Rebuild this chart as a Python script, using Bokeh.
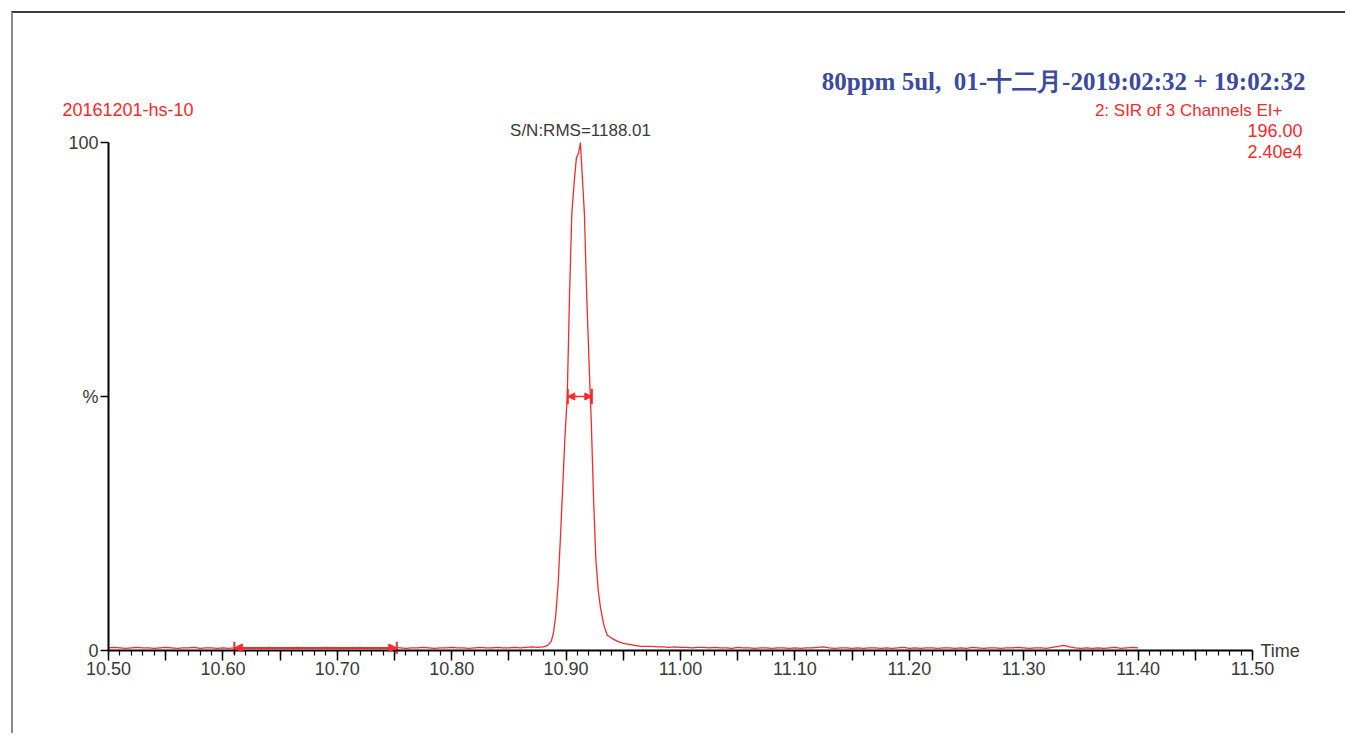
import numpy as np
from bokeh.plotting import figure
from bokeh.models import Range1d, FixedTicker, Label, Arrow, NormalHead, CustomJSTickFormatter
from bokeh.embed import file_html
from bokeh.resources import INLINE

# ---------------- data ----------------
scan_step = 0.005
left_start = 10.500
base_left = [
    0.5, 0.6, 0.5, 0.4, 0.5, 0.6, 0.5, 0.5, 0.4, 0.5,
    0.6, 0.5, 0.4, 0.5, 0.5, 0.6, 0.4, 0.5, 0.5, 0.4,
    0.5, 0.4, 0.5, 0.6, 0.4, 0.5, 0.5, 0.4, 0.6, 0.5,
    0.4, 0.5, 0.5, 0.6, 0.4, 0.5, 0.4, 0.5, 0.6, 0.5,
    0.5, 0.4, 0.5, 0.5, 0.6, 0.4, 0.5, 0.5, 0.4, 0.5,
    0.6, 0.5, 0.4, 0.5, 0.5, 0.6, 0.5, 0.4, 0.5, 0.5,
    0.6, 0.5, 0.5, 0.4, 0.5, 0.6, 0.5, 0.5, 0.6, 0.5,
    0.5, 0.6, 0.5, 0.6, 0.7, 0.6]
peak_t = [10.880, 10.884, 10.887, 10.889, 10.891, 10.893, 10.895, 10.897, 10.899,
          10.901, 10.903, 10.905, 10.907, 10.909, 10.911, 10.9125, 10.914, 10.916,
          10.918, 10.920, 10.922, 10.924, 10.926, 10.928, 10.930, 10.933, 10.936,
          10.940, 10.945, 10.950, 10.955, 10.960, 10.965, 10.970]
peak_v = [0.7, 1.0, 1.8, 3.5, 7, 13, 22, 32, 42,
          50, 70, 86, 92, 97, 98, 100, 94, 86,
          70, 57, 45, 30, 18, 12, 8.5, 5, 3,
          2.4, 1.8, 1.4, 1.2, 1.0, 0.8, 0.8]
right_start = 10.975
base_right = [
    0.8, 0.7, 0.7, 0.6, 0.7, 0.6, 0.6, 0.5, 0.6, 0.6,
    0.5, 0.6, 0.5, 0.5, 0.4, 0.6, 0.5, 0.5, 0.4, 0.5,
    0.5, 0.4, 0.5, 0.5, 0.4, 0.5, 0.4, 0.5, 0.5, 0.6,
    0.7, 0.5, 0.4, 0.5, 0.5, 0.4, 0.5, 0.4, 0.5, 0.5,
    0.4, 0.5, 0.4, 0.5, 0.6, 0.4, 0.5, 0.4, 0.5, 0.5,
    0.4, 0.5, 0.5, 0.4, 0.5, 0.4, 0.6, 0.5, 0.4, 0.5,
    0.5, 0.4, 0.5, 0.5, 0.6, 0.5, 0.4, 0.5, 0.5, 0.4,
    0.6, 0.8, 1.0, 0.7, 0.5, 0.4, 0.5, 0.4, 0.5, 0.4,
    0.5, 0.6, 0.4, 0.5, 0.6, 0.5]

noise_range = [10.610, 10.752]
noise_level = 0.5
width_range = [10.9015, 10.9225]
width_level = 50

x_bounds = (10.50, 11.50)
y_bounds = (0, 100)
x_major = [10.50, 10.55, 10.60, 10.65, 10.70, 10.75, 10.80, 10.85, 10.90, 10.95, 11.00,
           11.05, 11.10, 11.15, 11.20, 11.25, 11.30, 11.35, 11.40, 11.45, 11.50]
y_ticks = [0, 50, 100]

title_text = "80ppm 5ul,\u00a0 01-十二月-2019:02:32 + 19:02:32"
sample_text = "20161201-hs-10"
func_text = "2: SIR of 3 Channels EI+"
mass_text = "196.00"
intensity_text = "2.40e4"
sn_text = "S/N:RMS=1188.01"

# ---------------- build series ----------------
t_left = [round(left_start + i * scan_step, 4) for i in range(len(base_left))]
t_right = [round(right_start + i * scan_step, 4) for i in range(len(base_right))]
times = t_left + peak_t + t_right
vals = base_left + peak_v + base_right

RED = "#f52a2a"
BLUE = "#3b4a9e"
GREY = "#3a3a3a"

# frame is wider than the axes so the header texts fit inside it
p = figure(width=1334, height=722,
           x_range=Range1d(10.451923, 11.565559), y_range=Range1d(-8.858, 117.52),
           output_backend="svg", toolbar_location=None,
           min_border_left=40, min_border_right=20, min_border_top=40, min_border_bottom=40)
p.margin = (11, 0, 0, 11)
p.styles = {"border-top": "2px solid #3c3c3c", "border-left": "2px solid #8a8a8a"}
p.xgrid.visible = False
p.ygrid.visible = False
p.outline_line_color = None
p.background_fill_color = "white"
p.border_fill_color = "white"

minor = [round(10.5 + i * 0.01, 2) for i in range(101)]
xa = p.xaxis[0]
xa.fixed_location = 0
xa.bounds = x_bounds
xa.ticker = FixedTicker(ticks=x_major, minor_ticks=minor)
xa.formatter = CustomJSTickFormatter(code="return (Math.round(tick*100) % 10 == 0) ? tick.toFixed(2) : '';")
xa.axis_line_width = 2
xa.axis_line_color = "black"
xa.major_tick_line_width = 1.5
xa.major_tick_line_color = "black"
xa.major_tick_out = 10
xa.major_tick_in = 0
xa.minor_tick_line_width = 1.2
xa.minor_tick_line_color = "black"
xa.minor_tick_out = 5
xa.minor_tick_in = 0
xa.major_label_text_font = "Liberation Sans"
xa.major_label_text_font_size = "18px"
xa.major_label_text_color = GREY
xa.major_label_standoff = 1

ya = p.yaxis[0]
ya.fixed_location = x_bounds[0]
ya.bounds = y_bounds
ya.ticker = FixedTicker(ticks=y_ticks, minor_ticks=[])
ya.formatter = CustomJSTickFormatter(code="return tick == 50 ? '%' : tick.toFixed(0);")
ya.axis_line_width = 2
ya.axis_line_color = "black"
ya.major_tick_line_width = 1.5
ya.major_tick_line_color = "black"
ya.major_tick_out = 8
ya.major_tick_in = 0
ya.minor_tick_out = 0
ya.major_label_text_font = "Liberation Sans"
ya.major_label_text_font_size = "18px"
ya.major_label_text_color = GREY
ya.major_label_standoff = 2

p.line(times, vals, line_color=RED, line_width=1.3)

# noise range marker
p.segment(x0=noise_range, y0=[noise_level - 1.2] * 2, x1=noise_range, y1=[noise_level + 1.2] * 2,
          line_color=RED, line_width=2)
p.add_layout(Arrow(x_start=noise_range[0], y_start=noise_level, x_end=noise_range[1], y_end=noise_level,
                   line_color=RED, line_width=2,
                   start=NormalHead(size=8, fill_color=RED, line_color=RED),
                   end=NormalHead(size=8, fill_color=RED, line_color=RED)))
# peak width marker
p.segment(x0=width_range, y0=[width_level - 1.5] * 2, x1=width_range, y1=[width_level + 1.5] * 2,
          line_color=RED, line_width=2)
p.add_layout(Arrow(x_start=width_range[0], y_start=width_level, x_end=width_range[1], y_end=width_level,
                   line_color=RED, line_width=1.5,
                   start=NormalHead(size=7, fill_color=RED, line_color=RED),
                   end=NormalHead(size=7, fill_color=RED, line_color=RED)))


def lab(x, y, text, color, size, align, font="Liberation Sans", style="normal", dx=0):
    p.add_layout(Label(x=x, y=y, text=text, text_color=color, text_font_size=size,
                       text_align=align, text_baseline="middle", text_font=font,
                       text_font_style=style, x_offset=dx))


lab(11.5463, 112.0, title_text, BLUE, "25px", "right", font="Liberation Serif", style="bold")
lab(10.4598, 106.3, sample_text, RED, "18px", "left")
lab(11.5262, 106.3, func_text, RED, "17px", "right")
lab(11.5437, 102.4, mass_text, RED, "18px", "right")
lab(11.5437, 98.2, intensity_text, RED, "18px", "right")
lab(10.9126, 102.4, sn_text, GREY, "17px", "center")
lab(x_bounds[1], 0, "Time", GREY, "18px", "left", dx=8)

open("out.html", "w").write(file_html(p, INLINE))
